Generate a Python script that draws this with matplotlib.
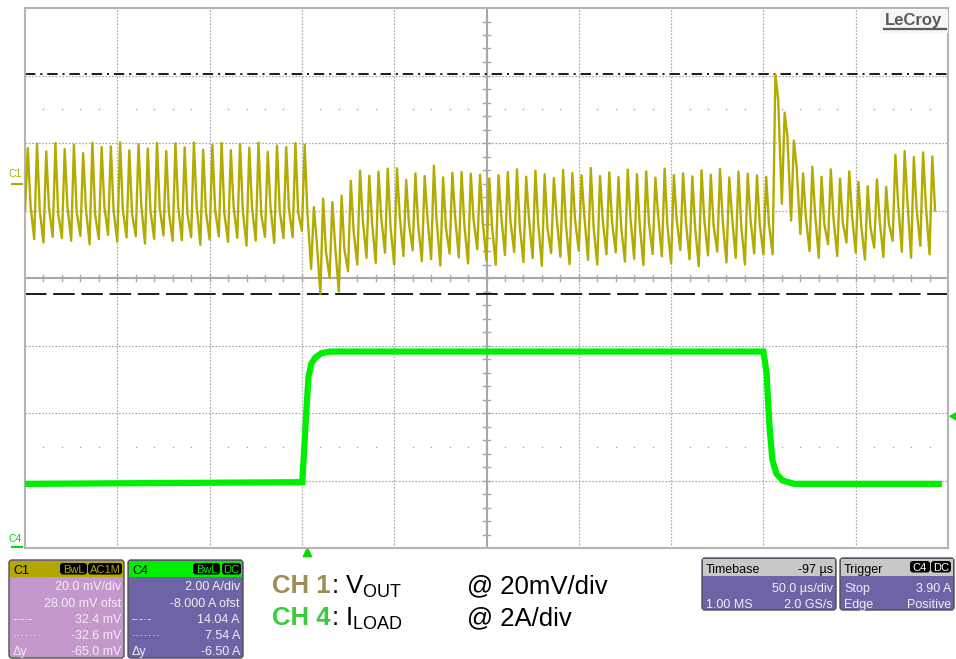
import numpy as np
import matplotlib
matplotlib.use("Agg")
import matplotlib.pyplot as plt
from matplotlib.patches import FancyBboxPatch, Rectangle, Polygon

plt.rcParams['font.family'] = ['Liberation Sans', 'DejaVu Sans']
plt.rcParams['mathtext.fontset'] = 'custom'
plt.rcParams['mathtext.rm'] = 'Liberation Sans'
plt.rcParams['mathtext.bf'] = 'Liberation Sans:bold'
plt.rcParams['lines.scale_dashes'] = False

# ---- scope settings ----
c1_vdiv = 20.0          # mV/div
c1_offset = 28.00       # mV
c4_adiv = 2.00          # A/div
c4_offset = -8.000      # A
c1_cursor_hi = 32.4     # mV
c1_cursor_lo = -32.6    # mV
c4_cursor_hi = 14.04    # A
c4_cursor_lo = 7.54     # A
time_per_div = 50.0     # us/div
delay = -97             # us
trig_level = 3.90       # A

# ---- CH1 Vout ripple: trough, peak and knee per switching cycle (mV) ----
ripple_t0 = -153.0      # us, first sample on screen
ripple_period = 5.0     # us
vout_troughs = [-8.0, -16.5, -17.5, -15.8, -16.2, -17.0, -15.5, -18.0, -16.5, -15.2,
                -17.2, -16.0, -15.6, -17.8, -16.4, -15.4, -17.0, -16.8, -15.9, -18.2,
                -16.6, -15.7, -17.3, -16.1, -18.4, -16.9, -15.8, -17.6, -16.2, -15.9,
                -14.0, -25.3, -32.6, -28.0, -32.0, -26.0, -24.0,
                -22.0, -23.5, -20.5, -24.0, -21.5, -19.8, -23.0, -22.4, -24.3, -20.8,
                -21.9, -23.7, -19.5, -22.8, -24.1, -21.2, -20.3, -23.3, -22.1, -24.4,
                -20.6, -21.7, -23.9, -19.9, -22.6, -24.0, -21.0, -20.4, -23.1, -22.3,
                -24.2, -20.9, -21.6, -23.6, -19.7, -22.5, -24.5, -21.3, -20.2, -23.4,
                -22.0, -24.0, -20.7, -21.0,
                -21.0, -6.0, -11.0, -15.0, -20.0, -22.0, -18.0, -21.5, -17.5, -20.5,
                -22.5, -19.0, -21.8, -17.0, -20.2, -22.0, -18.5, -21.0]
vout_peaks = [10.5, 11.8, 9.5, 12.0, 10.2, 11.5, 9.0, 12.1, 10.8, 11.0,
              12.2, 9.8, 11.6, 10.4, 12.0, 9.6, 11.9, 10.7, 12.1, 10.0,
              11.4, 12.0, 9.9, 11.7, 10.6, 12.1, 9.4, 11.3, 10.8, 12.0,
              11.5, -7.0, -4.5, -5.5, -3.6, 0.8, 3.8,
              2.3, 3.5, 4.4, 4.5, 1.0, 3.0, 2.2, 5.3, 1.8, 3.2,
              3.4, 2.9, 2.6, 1.5, 2.5, 3.4, 4.2, 2.0, 3.8, 2.7,
              1.6, 4.0, 3.1, 2.4, 4.6, 2.2, 3.3, 1.9, 4.1, 2.8,
              3.6, 1.7, 4.4, 2.5, 3.0, 2.1, 3.9, 2.6, 4.3, 1.8,
              3.5, 2.9, 2.4, 2.0,
              32.4, 21.0, 12.7, 3.0, 5.0, 2.0, 4.2, 1.5, 3.6, 0.5,
              -0.8, 1.2, -1.0, 8.5, 9.6, 7.8, 9.2, 8.0]
vout_knees = [-6.5, -8.0, -7.2, -9.0, -6.8, -8.5, -7.5, -9.2, -6.9, -8.1,
              -7.7, -9.0, -6.6, -8.3, -7.4, -8.8, -7.0, -9.1, -6.7, -8.4,
              -7.8, -8.9, -6.9, -8.0, -7.3, -9.3, -7.1, -8.2, -7.6, -8.7,
              -9.0, -17.0, -20.0, -18.5, -19.5, -14.0, -11.0,
              -11.5, -10.2, -12.8, -9.6, -11.9, -12.4, -10.0, -11.1, -13.0, -9.8,
              -12.2, -10.7, -11.6, -12.9, -9.9, -11.3, -12.6, -10.4, -11.8, -13.1,
              -10.1, -12.0, -11.0, -9.7, -12.7, -10.9, -11.4, -13.2, -10.3, -12.1,
              -11.7, -9.5, -12.5, -10.6, -11.2, -13.0, -10.8, -12.3, -11.5, -9.9,
              -12.6, -10.5, -11.9, -12.0,
              25.0, 14.0, 5.0, -10.0, -9.0, -12.0, -10.5, -11.5, -9.5, -12.5,
              -13.0, -11.0, -12.0, -6.0, -5.0, -7.5, -6.5, -8.0]

# ---- CH4 load current (A) ----
iload_t = [-153.0, -2.8, -1.6, -0.5, 0.6, 2.2, 4.4, 7.6, 12.0,
           247.0, 248.7, 250.3, 251.9, 254.1, 257.4, 263.8, 342.0]
iload_a = [1.90, 1.95, 3.07, 4.14, 5.09, 5.47, 5.65, 5.77, 5.82,
           5.82, 5.20, 3.60, 2.60, 2.20, 2.00, 1.90, 1.90]

W, H = 956, 659
fig = plt.figure(figsize=(W / 100, H / 100), dpi=100)
fig.patch.set_facecolor('white')

# screen area in pixels: x 25..948, y 8..548
ax = fig.add_axes([25 / W, 1 - 548 / H, 923 / W, 540 / H])
ax.set_xlim(0, 10)
ax.set_ylim(-4, 4)
ax.set_xticks([])
ax.set_yticks([])
for s in ax.spines.values():
    s.set_color('#b4b4b4')
    s.set_linewidth(1.5)

t_center = -delay


def tdiv(t):
    return 5 + (np.asarray(t) - t_center) / time_per_div


def vdiv(v):
    return (np.asarray(v) + c1_offset) / c1_vdiv


def adiv(a):
    return (np.asarray(a) + c4_offset) / c4_adiv


# graticule
gcol = '#a8a8a8'
for k in range(1, 10):
    if k != 5:
        ax.axvline(k, color=gcol, lw=0.9, ls=(0, (1.2, 1.2)), zorder=1)
for k in range(-3, 4):
    if k != 0:
        ax.axhline(k, color=gcol, lw=0.9, ls=(0, (1.2, 1.2)), zorder=1)
ax.axvline(5, color=gcol, lw=1.5, zorder=1)
ax.axhline(0, color=gcol, lw=1.5, zorder=1)
sub_x = np.arange(1, 50) * 0.2
sub_y = np.arange(-19, 20) * 0.2
for sx in sub_x:
    ax.plot([sx, sx], [-0.045, 0.045], color=gcol, lw=1.0, zorder=1)
for sy in sub_y:
    ax.plot([4.967, 5.033], [sy, sy], color=gcol, lw=1.0, zorder=1)
dot_x = np.array([x for x in sub_x if abs(x - round(x)) > 0.05])
for yy in (2.5, -2.5):
    ax.plot(dot_x, np.full(dot_x.shape, yy), ls='none', marker='s', ms=1.0,
            color=gcol, mec='none', zorder=1)

# cursors
ax.axhline(vdiv(c1_cursor_hi), color='#1a1a1a', lw=1.4,
           ls=(0, (7.5, 3.5, 1.5, 3.5)), zorder=2)
ax.axhline(vdiv(c1_cursor_lo), color='#1a1a1a', lw=1.4,
           ls=(0, (15.5, 4.8)), zorder=2)

# traces
n = len(vout_peaks)
t_tr = ripple_t0 + ripple_period * np.arange(n)
vt = np.column_stack([t_tr, t_tr + 0.3 * ripple_period, t_tr + 0.6 * ripple_period]).ravel()
vv = np.column_stack([vout_troughs, vout_peaks, vout_knees]).ravel()
ax.plot(tdiv(vt), vdiv(vv), color='#b3ab00', lw=1.7, zorder=3)
ax.plot(tdiv(iload_t), adiv(iload_a), color='#00ee00', lw=4.5,
        solid_joinstyle='miter', zorder=3)

# channel / trigger markers
ytr = ax.get_yaxis_transform()
xtr = ax.get_xaxis_transform()
ax.plot([-0.014, -0.003], [vdiv(0), vdiv(0)], color='#b3ab00', lw=1.5,
        transform=ytr, clip_on=False)
ax.text(-0.018, vdiv(0) + 0.06, 'C1', color='#b3ab00', fontsize=7.5,
        transform=ytr, ha='left', va='bottom', clip_on=False)
ax.plot([-0.014, -0.003], [adiv(0) + 0.02, adiv(0) + 0.02], color='#00dd00', lw=1.5,
        transform=ytr, clip_on=False)
ax.text(-0.018, adiv(0) + 0.06, 'C4', color='#00dd00', fontsize=7.5,
        transform=ytr, ha='left', va='bottom', clip_on=False)
xt = float(tdiv(0))
ax.add_patch(Polygon([[xt - 0.045, -0.016], [xt + 0.045, -0.016], [xt, 0.0]],
                     closed=True, color='#00dd00', transform=xtr, clip_on=False))
yl = float(adiv(trig_level))
ax.add_patch(Polygon([[1.0085, yl - 0.05], [1.0085, yl + 0.05], [1.002, yl]],
                     closed=True, color='#00dd00', transform=ytr, clip_on=False))

# overlay in pixel coordinates for annotations
ov = fig.add_axes([0, 0, 1, 1], zorder=5)
ov.set_xlim(0, W)
ov.set_ylim(H, 0)
ov.axis('off')

# LeCroy logo
ov.add_patch(Rectangle((880, 10), 68, 23, fc='#f6f6f6', ec='none'))
ov.text(885, 25, 'LeCroy', fontsize=12, fontweight='bold', color='#5a5a5a',
        ha='left', va='baseline')
ov.plot([884, 946], [28.5, 28.5], color='#5a5a5a', lw=1.6)


def badge(x_right, width, y_top, label, fg):
    ov.add_patch(FancyBboxPatch((x_right - width, y_top), width, 11.5,
                                boxstyle='round,pad=0,rounding_size=3',
                                fc='black', ec='none'))
    ov.text(x_right - width / 2, y_top + 10, label, color=fg, fontsize=8,
            ha='center', va='baseline')


def panel(x0, y0, w, h, head_h, head_col, body_col, title, title_col, rows):
    ov.add_patch(FancyBboxPatch((x0, y0), w, h, boxstyle='round,pad=0,rounding_size=3',
                                fc=body_col, ec='#505050', lw=1.0))
    ov.add_patch(Rectangle((x0 + 1, y0 + 1), w - 2, head_h, fc=head_col, ec='none'))
    ov.text(x0 + 4, y0 + head_h - 2, title, color=title_col, fontsize=9,
            ha='left', va='baseline')
    for left, right, yb in rows:
        if left:
            ov.text(x0 + 4, yb, left, color='#f2eef6', fontsize=9, ha='left', va='baseline')
        if right:
            ov.text(x0 + w - 3, yb, right, color='#f2eef6', fontsize=9, ha='right',
                    va='baseline')


c1_col = '#b3a800'
c1_rows = [('', f'{c1_vdiv:.1f} mV/div', 590),
           ('', f'{c1_offset:.2f} mV ofst', 607),
           ('-·-·-', f'{c1_cursor_hi:.1f} mV', 623),
           ('·······', f'{c1_cursor_lo:.1f} mV', 639),
           ('Δy', f'{c1_cursor_lo - c1_cursor_hi:.1f} mV', 655)]
panel(9, 560, 115, 98, 16, c1_col, '#c498cc', 'C1', 'black', c1_rows)
badge(87, 27, 563, 'BwL', c1_col)
badge(122, 34, 563, 'AC1M', c1_col)

c4_col = '#00ee00'
c4_rows = [('', f'{c4_adiv:.2f} A/div', 590),
           ('', f'{c4_offset:.3f} A ofst', 607),
           ('-·-·-', f'{c4_cursor_hi:.2f} A', 623),
           ('·······', f'{c4_cursor_lo:.2f} A', 639),
           ('Δy', f'{c4_cursor_lo - c4_cursor_hi:.2f} A', 655)]
panel(128, 560, 115, 98, 16, c4_col, '#6c64a4', 'C4', 'black', c4_rows)
badge(220, 27, 563, 'BwL', c4_col)
badge(241, 19, 563, 'DC', c4_col)

tb_rows = [('', f'{time_per_div:.1f} µs/div', 592),
           ('1.00 MS', '2.0 GS/s', 608)]
panel(702, 558, 134, 52, 17, '#c8c8c8', '#6c64a4', 'Timebase', 'black', tb_rows)
ov.text(833, 573, f'{delay} µs', color='black', fontsize=9, ha='right', va='baseline')

tr_rows = [('Stop', f'{trig_level:.2f} A', 592),
           ('Edge', 'Positive', 608)]
panel(840, 558, 114, 52, 17, '#c8c8c8', '#6c64a4', 'Trigger', 'black', tr_rows)
badge(930, 20, 561, 'C4', 'white')
badge(951, 20, 561, 'DC', 'white')

# channel legend
ov.text(272, 593, 'CH 1', color='#9b8c58', fontsize=18.5, fontweight='bold',
        ha='left', va='baseline')
ov.text(331, 593, r': $\mathrm{V}_{\mathrm{OUT}}$', color='black', fontsize=18.5,
        ha='left', va='baseline')
ov.text(272, 625, 'CH 4', color='#3bcc3b', fontsize=18.5, fontweight='bold',
        ha='left', va='baseline')
ov.text(331, 625, r': $\mathrm{I}_{\mathrm{LOAD}}$', color='black', fontsize=18.5,
        ha='left', va='baseline')
ov.text(467, 593, f'@ {c1_vdiv:.0f}mV/div', color='black', fontsize=18.5,
        ha='left', va='baseline')
ov.text(467, 625, f'@ {c4_adiv:.0f}A/div', color='black', fontsize=18.5,
        ha='left', va='baseline')

fig.savefig('out.png', dpi=100)
